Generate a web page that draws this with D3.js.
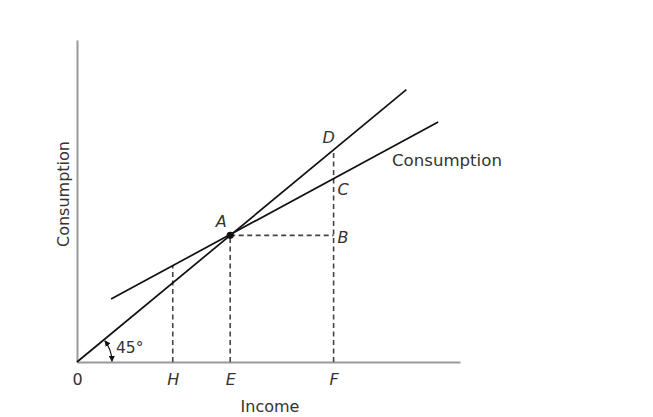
<!DOCTYPE html>
<html>
<head>
<meta charset="utf-8">
<script src="https://cdn.jsdelivr.net/npm/d3@7"></script>
<style>
  body { margin: 0; background: #fff; }
  text { font-family: "DejaVu Sans", sans-serif; fill: #333; }
</style>
</head>
<body>
<script>
// Values (income units on x, consumption units on y)
const incomeTicks = [0, 25, 40, 67];
const incomeTickLabels = ["0", "H", "E", "F"];
const line45 = [[0, 0], [86, 86]];
const consumptionLine = [[8.9, 19.9], [94.3, 75.8]];
const pointA = [40, 40];
const pointB = [67, 40];
const pointC = [67, 57.9];
const pointD = [67, 67];
const pointH = [25, 30.4];

const width = 653, height = 417;

const svg = d3
  .select("body")
  .append("svg")
  .attr("width", width)
  .attr("height", height);

// Scales
const x = d3.scaleLinear().domain([0, 100]).range([77, 460]);
const y = d3.scaleLinear().domain([0, 101.7]).range([362, 40]);

const line = d3.line().x((d) => x(d[0])).y((d) => y(d[1]));

// Arrow marker for the 45 degree arc
svg
  .append("defs")
  .append("marker")
  .attr("id", "arrow")
  .attr("viewBox", "0 0 10 10")
  .attr("refX", 9)
  .attr("refY", 5)
  .attr("markerWidth", 6)
  .attr("markerHeight", 6)
  .attr("markerUnits", "userSpaceOnUse")
  .attr("orient", "auto-start-reverse")
  .append("path")
  .attr("d", "M0,0L10,5L0,10z")
  .attr("fill", "#111");

// Axes
const xAxis = d3
  .axisBottom(x)
  .tickValues(incomeTicks)
  .tickFormat((d, i) => incomeTickLabels[i])
  .tickSize(0)
  .tickPadding(12);

const gx = svg
  .append("g")
  .attr("transform", `translate(0,${y(0)})`)
  .call(xAxis);

gx.select(".domain").attr("stroke", "#999").attr("stroke-width", 2);
gx.selectAll(".tick text")
  .attr("font-size", 16)
  .attr("font-family", "DejaVu Sans")
  .attr("fill", "#333")
  .attr("font-style", (d) => (d === 0 ? "normal" : "italic"));

const gy = svg
  .append("g")
  .attr("transform", `translate(${x(0)},0)`)
  .call(d3.axisLeft(y).tickValues([]).tickSizeOuter(0));

gy.select(".domain").attr("stroke", "#999").attr("stroke-width", 2);

// Dashed guide lines
const dashed = [
  [[pointH[0], 0], pointH],
  [[pointA[0], 0], pointA],
  [[pointD[0], 0], pointD],
  [pointA, pointB],
];

svg
  .selectAll(".guide")
  .data(dashed)
  .enter()
  .append("path")
  .attr("class", "guide")
  .attr("d", line)
  .attr("fill", "none")
  .attr("stroke", "#444")
  .attr("stroke-width", 1.6)
  .attr("stroke-dasharray", "5,3.5");

// 45 degree line and consumption function
svg
  .selectAll(".fn")
  .data([line45, consumptionLine])
  .enter()
  .append("path")
  .attr("class", "fn")
  .attr("d", line)
  .attr("fill", "none")
  .attr("stroke", "#111")
  .attr("stroke-width", 1.7);

// Point A
svg
  .append("circle")
  .attr("cx", x(pointA[0]))
  .attr("cy", y(pointA[1]))
  .attr("r", 3.6)
  .attr("fill", "#111");

// 45 degree arc
const ang = Math.atan2(y(0) - y(line45[1][1]), x(line45[1][0]) - x(0));
const p = d3.path();
p.arc(x(0), y(0), 35, -ang + 0.04, -0.02);
svg
  .append("path")
  .attr("d", p.toString())
  .attr("fill", "none")
  .attr("stroke", "#111")
  .attr("stroke-width", 1.2)
  .attr("marker-start", "url(#arrow)")
  .attr("marker-end", "url(#arrow)");

svg
  .append("text")
  .attr("x", 116)
  .attr("y", 353)
  .attr("font-size", 15.5)
  .text("45°");

// Point letters
const letters = [
  { t: "A", p: pointA, dx: -9, dy: -8, anchor: "middle" },
  { t: "D", p: pointD, dx: -5, dy: -7, anchor: "middle" },
  { t: "C", p: pointC, dx: 4, dy: 16, anchor: "start" },
  { t: "B", p: pointB, dx: 4, dy: 8, anchor: "start" },
];

svg
  .selectAll(".letter")
  .data(letters)
  .enter()
  .append("text")
  .attr("class", "letter")
  .attr("x", (d) => x(d.p[0]) + d.dx)
  .attr("y", (d) => y(d.p[1]) + d.dy)
  .attr("text-anchor", (d) => d.anchor)
  .attr("font-size", 16)
  .attr("font-style", "italic")
  .text((d) => d.t);

// Labels
svg
  .append("text")
  .attr("x", 392)
  .attr("y", 166)
  .attr("font-size", 16.6)
  .text("Consumption");

svg
  .append("text")
  .attr("x", 270)
  .attr("y", 412)
  .attr("text-anchor", "middle")
  .attr("font-size", 16)
  .text("Income");

svg
  .append("text")
  .attr("transform", "translate(69,194) rotate(-90)")
  .attr("text-anchor", "middle")
  .attr("font-size", 16)
  .text("Consumption");
</script>
</body>
</html>
